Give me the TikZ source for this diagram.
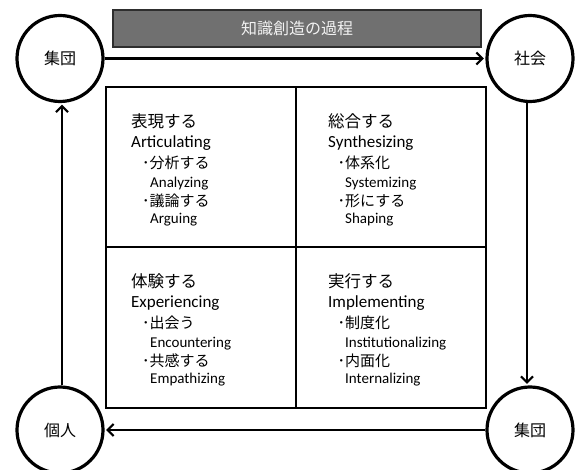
\documentclass[tikz,border=0pt]{standalone}
\usepackage{fontspec}
\setmainfont{Carlito}
\newfontfamily\jp{Noto Sans CJK JP}
\usetikzlibrary{arrows.meta}
\definecolor{titlegray}{HTML}{707070}
\definecolor{titleborder}{HTML}{2E2E2E}
\definecolor{titletext}{HTML}{F2F2F2}
\begin{document}
\begin{tikzpicture}[x=1pt,y=-1pt,
  circ/.style={circle, draw, line width=3.2pt, minimum size=86pt, inner sep=0pt, font=\jp\fontsize{16}{16}\selectfont},
  flow/.style={line width=2.6pt, -{Straight Barb[length=6pt,width=12pt,line width=2.2pt]}},
  head/.style={anchor=base west, inner sep=0pt, font=\jp\fontsize{16.5}{18}\selectfont},
  eng/.style={anchor=base west, inner sep=0pt, font=\fontsize{17}{18}\selectfont},
  bul/.style={anchor=base west, inner sep=0pt, font=\jp\fontsize{15}{18}\selectfont},
  sub/.style={anchor=base west, inner sep=0pt, font=\fontsize{15}{16}\selectfont},
]
\useasboundingbox (0,0) rectangle (576,470);

% title
\node[fill=titlegray, draw=titleborder, line width=1.5pt, minimum width=368pt, minimum height=37pt,
      inner sep=0pt, text=titletext, font=\jp\fontsize{16}{18}\selectfont] (title) at (297,28.5) {知識創造の過程};

% circles
\node[circ] (c1) at (60,58.5) {集団};
\node[circ] (c2) at (530,58.5) {社会};
\node[circ] (c3) at (60,430) {個人};
\node[circ] (c4) at (530,430) {集団};

% arrows
\draw[flow, shorten >=1.5pt] (c1.east) -- (c2.west);
\draw[flow, shorten >=1.5pt] ([xshift=-3pt]c2.south) -- ([xshift=-3pt]c4.north);
\draw[flow, shorten >=1.5pt] (c4.west) -- (c3.east);
\draw[flow, shorten >=1.5pt] ([xshift=2pt]c3.north) -- ([xshift=2pt]c1.south);

% grid
\node[draw, line width=1.2pt, minimum width=380pt, minimum height=321pt, inner sep=0pt] (grid) at (296,247.5) {};
\draw[line width=1.2pt] (grid.north) -- (grid.south);
\draw[line width=2pt] (grid.west) -- (grid.east);

% top-left cell
\node[head] (h1) at (131,127.5) {表現する};
\node[eng]  (e1) at (131,148) {Articulating};
\node[bul]  (b1a) at (142,168.5) {･分析する};
\node[sub]  (s1a) at (150,187.5) {Analyzing};
\node[bul]  (b1b) at (142,206.5) {･議論する};
\node[sub]  (s1b) at (150,223.5) {Arguing};

% top-right cell
\node[head] (h2) at (328,127.5) {総合する};
\node[eng]  (e2) at (328,148) {Synthesizing};
\node[bul]  (b2a) at (337.5,168.5) {･体系化};
\node[sub]  (s2a) at (345,187.5) {Systemizing};
\node[bul]  (b2b) at (337.5,206.5) {･形にする};
\node[sub]  (s2b) at (345,223.5) {Shaping};

% bottom-left cell
\node[head] (h3) at (131,287.5) {体験する};
\node[eng]  (e3) at (131,308) {Experiencing};
\node[bul]  (b3a) at (142,328.5) {･出会う};
\node[sub]  (s3a) at (150,347.5) {Encountering};
\node[bul]  (b3b) at (142,366.5) {･共感する};
\node[sub]  (s3b) at (150,383.5) {Empathizing};

% bottom-right cell
\node[head] (h4) at (328,287.5) {実行する};
\node[eng]  (e4) at (328,308) {Implementing};
\node[bul]  (b4a) at (337.5,328.5) {･制度化};
\node[sub]  (s4a) at (345,347.5) {Institutionalizing};
\node[bul]  (b4b) at (337.5,366.5) {･内面化};
\node[sub]  (s4b) at (345,383.5) {Internalizing};
\end{tikzpicture}
\end{document}
